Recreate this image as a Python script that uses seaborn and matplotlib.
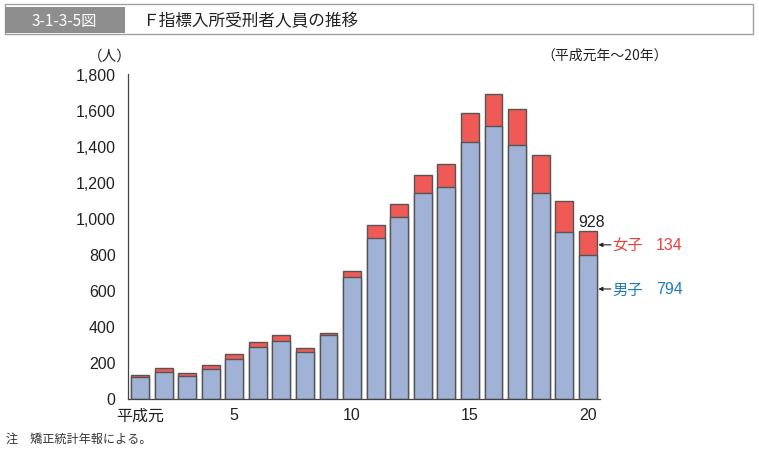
import matplotlib
matplotlib.use("Agg")
import matplotlib.pyplot as plt
from matplotlib.patches import Rectangle
from matplotlib.ticker import FuncFormatter
import seaborn as sns
import pandas as pd

sns.set_style("white")
plt.rcParams['font.family'] = ['Liberation Sans', 'Noto Sans CJK JP', 'DejaVu Sans']
JP = ['Noto Sans CJK JP', 'DejaVu Sans']

years = [str(i) for i in range(1, 21)]
male = [118, 149, 123, 166, 219, 284, 318, 257, 353, 673,
        890, 1010, 1140, 1177, 1425, 1514, 1407, 1143, 922, 794]
total = [132, 168, 140, 184, 247, 314, 351, 281, 366, 707,
         966, 1082, 1243, 1304, 1586, 1692, 1607, 1351, 1096, 928]
tick_pos = [0, 4, 9, 14, 19]
tick_labels = ['平成元', '5', '10', '15', '20']
yticks = list(range(0, 1801, 200))

df = pd.DataFrame({'year': years, 'male': male, 'total': total})

blue = '#A0B2D6'
red = '#EF5A57'
edge = '#555555'

W, H = 759, 456
fig = plt.figure(figsize=(W / 100, H / 100), dpi=100)
ax = fig.add_axes([128 / W, 1 - 399.5 / H, (600 - 128) / W, (399.5 - 75.3) / H])

sns.barplot(data=df, x='year', y='total', order=years, color=red, width=0.76,
            edgecolor=edge, linewidth=1.0, saturation=1, ax=ax)
sns.barplot(data=df, x='year', y='male', order=years, color=blue, width=0.76,
            edgecolor=edge, linewidth=1.0, saturation=1, ax=ax)

ax.set_xlim(-0.51, 19.52)
ax.set_ylim(0, 1800)
ax.set_yticks(yticks)
ax.yaxis.set_major_formatter(FuncFormatter(lambda v, p: f'{int(v):,}'))
ax.set_xticks(tick_pos)
ax.set_xticklabels(tick_labels)
ax.set_xlabel('')
ax.set_ylabel('')
for s in ['top', 'right']:
    ax.spines[s].set_visible(False)
for s in ['left', 'bottom']:
    ax.spines[s].set_color('#444444')
    ax.spines[s].set_linewidth(0.9)
ax.tick_params(axis='y', direction='in', length=4, width=0.8, color='#444444',
               labelsize=11.5, pad=9, labelcolor='#222222')
ax.tick_params(axis='x', length=0, labelsize=11.5, pad=6, labelcolor='#222222')
for lab in ax.get_xticklabels():
    if lab.get_text() == '平成元':
        lab.set_family(JP)

# annotations for last bar
ax.text(19 - 0.42, total[-1] + 30, f'{total[-1]}', fontsize=11.5, color='#222222',
        ha='left', va='baseline')
f_y = 853
m_y = 608
for yv in (f_y, m_y):
    ax.annotate('', xy=(19.45, yv), xytext=(19.98, yv),
                arrowprops=dict(arrowstyle='-|>', color='#222222', lw=0.8,
                                mutation_scale=6, shrinkA=0, shrinkB=0),
                annotation_clip=False)
ax.text(20.05, f_y, '女子', fontsize=11, color='#E8403F', ha='left', va='center',
        family=JP)
ax.text(21.9, f_y, f'{total[-1] - male[-1]}', fontsize=11.5, color='#E8403F',
        ha='left', va='center')
ax.text(20.05, m_y, '男子', fontsize=11, color='#1F7BC0', ha='left', va='center',
        family=JP)
ax.text(21.9, m_y, f'{male[-1]}', fontsize=11.5, color='#1F7BC0',
        ha='left', va='center')

# header banner
fig.patches.append(Rectangle((5 / W, 1 - 35 / H), 748 / W, 30 / H, transform=fig.transFigure,
                             facecolor='white', edgecolor='#A0A0A0', lw=1))
fig.patches.append(Rectangle((5 / W, 1 - 34 / H), 120 / W, 26 / H, transform=fig.transFigure,
                             facecolor='#8E8E8E', edgecolor='none'))
fig.text(64 / W, 1 - 21.5 / H, '3-1-3-5図', color='white', fontsize=11,
         ha='center', va='center', family=JP)
fig.text(142 / W, 1 - 21.5 / H, 'Ｆ指標入所受刑者人員の推移', color='#222222', fontsize=12,
         ha='left', va='center', family=JP)

fig.text(110 / W, 1 - 57 / H, '（人）', fontsize=10.5, color='#222222', ha='center',
         va='center', family=JP)
fig.text(668 / W, 1 - 56 / H, '（平成元年～20年）', fontsize=10, color='#222222',
         ha='right', va='center', family=JP)
fig.text(6 / W, 1 - 439 / H, '注　矯正統計年報による。', fontsize=8.7, color='#333333',
         ha='left', va='center', family=JP)

fig.savefig('out.png', dpi=100, facecolor='white')
